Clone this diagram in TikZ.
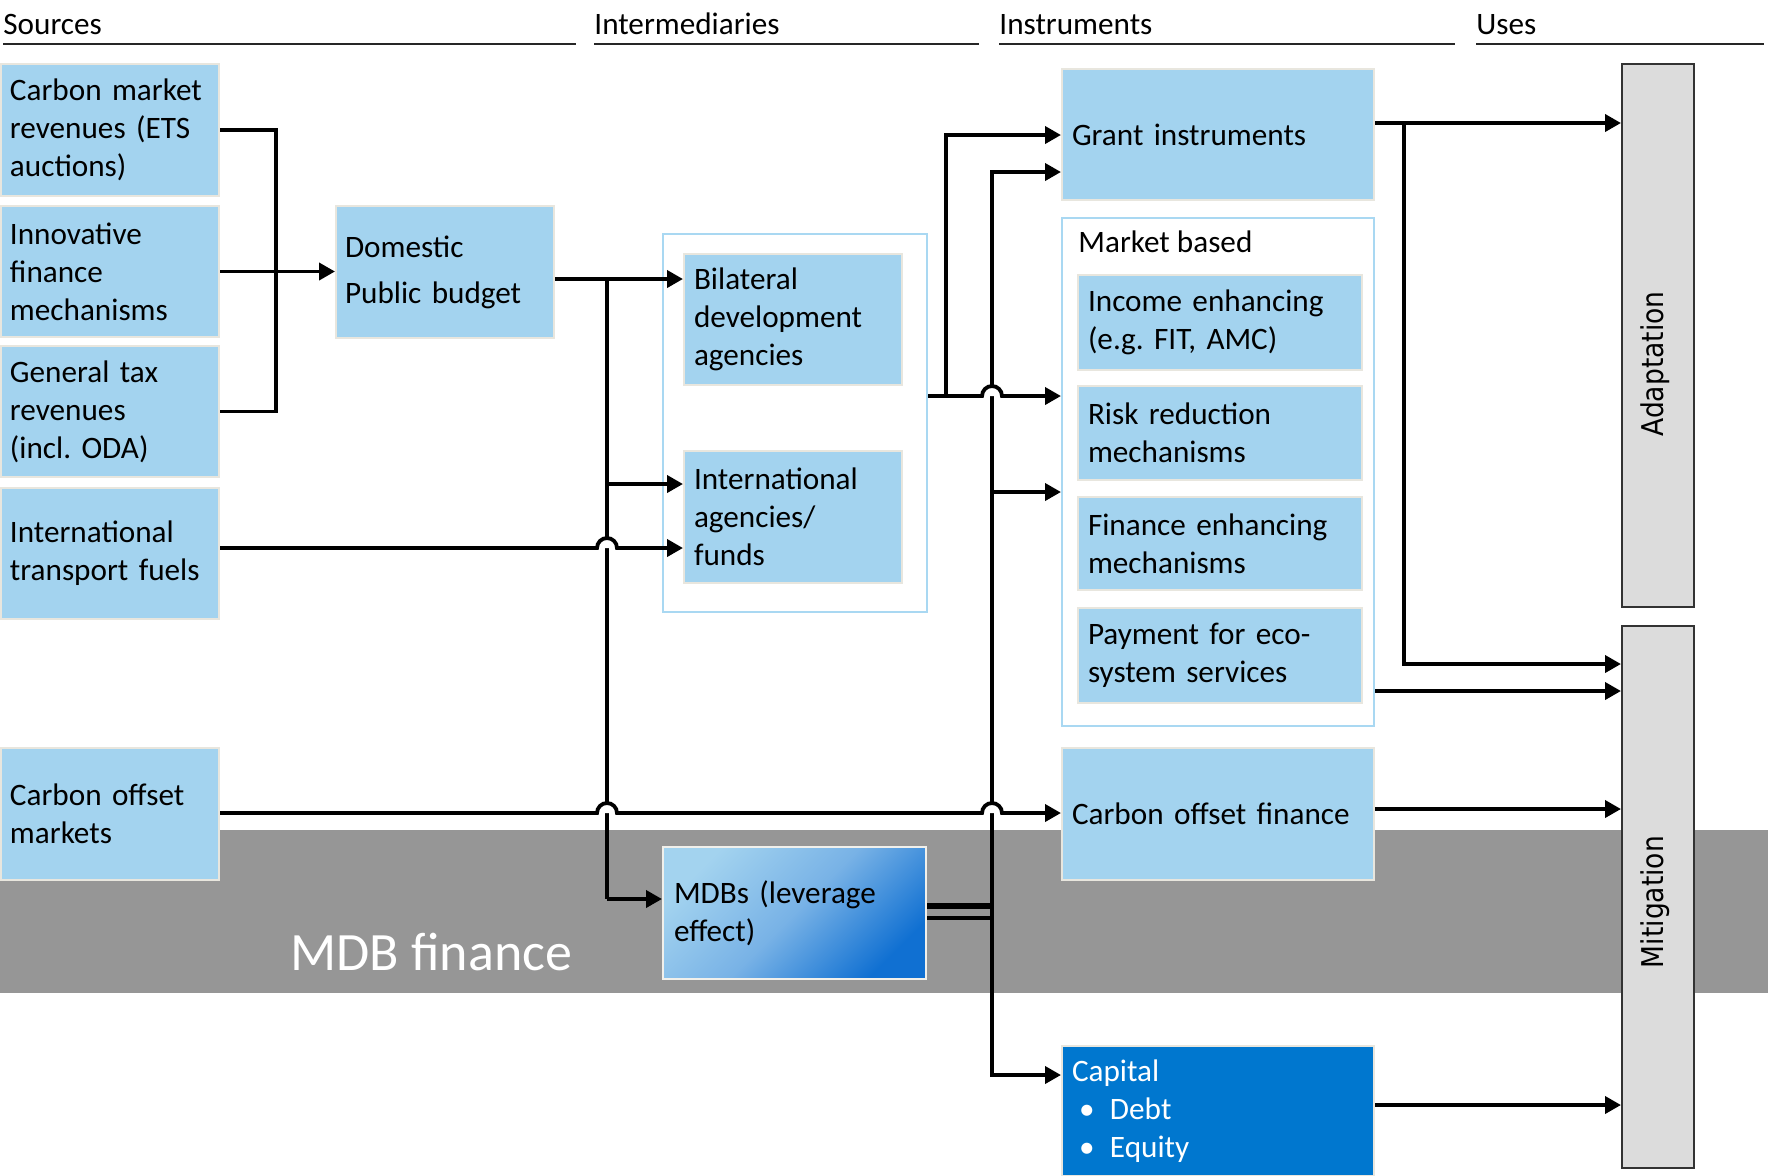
\documentclass[tikz,border=0pt]{standalone}
\usepackage{graphicx}
\usepackage{fontspec}
\setmainfont{Carlito}
\newfontfamily\usesfont{DejaVu Sans}
\usetikzlibrary{arrows.meta}
\frenchspacing

\definecolor{boxblue}{HTML}{A3D3EF}
\definecolor{boxedge}{HTML}{E8E6DE}
\definecolor{frameblue}{HTML}{A9D8F2}
\definecolor{capblue}{HTML}{0077CF}
\definecolor{bandgray}{HTML}{969696}
\definecolor{usefill}{HTML}{DCDCDC}
\definecolor{useedge}{HTML}{333333}
\definecolor{mdblight}{HTML}{A3D3EF}
\definecolor{mdbmid}{HTML}{78B2E6}
\definecolor{mdbdark}{HTML}{1070D2}

\begin{document}
\begin{tikzpicture}[x=0.5pt,y=-0.5pt,
  font=\fontsize{15.6pt}{19pt}\selectfont,
  box/.style={draw=boxedge, line width=1pt, fill=boxblue, anchor=north west,
    inner xsep=4.5pt, inner ysep=0pt, align=left, text=black},
  frame/.style={draw=frameblue, line width=1pt, fill=white, anchor=north west, inner sep=0pt},
  usebox/.style={draw=useedge, line width=1pt, fill=usefill, anchor=north west, inner sep=0pt},
  uselabel/.style={rotate=90, inner sep=0pt, font=\usesfont\fontsize{15pt}{18pt}\selectfont},
  head/.style={anchor=base west, inner sep=0pt},
  headline/.style={line width=1.3pt, black!85},
  conn/.style={line width=1.9pt, black},
  arr/.style={conn, -{Triangle[length=8pt,width=8.5pt]}},
]
\useasboundingbox (0,0) rectangle (1768,1175);

% MDB finance band
\fill[bandgray] (0,830) rectangle (1768,993);
\node[head, text=white, font=\fontsize{27pt}{30pt}\selectfont] (mdbf) at (290,970) {MDB finance};

% column headings
\node[head] (hsrc) at (3,34) {Sources};
\node[head] (hint) at (594,34) {Intermediaries};
\node[head] (hins) at (999,34) {Instruments};
\node[head] (huse) at (1476,34) {Uses};
\draw[headline] (3,44) -- (576,44);
\draw[headline] (594,44) -- (979,44);
\draw[headline] (999,44) -- (1455,44);
\draw[headline] (1476,44) -- (1764,44);

% sources
\node[box, text width=100pt, minimum height=66pt] (cmr) at (0,63) {Carbon market\\revenues (ETS\\auctions)};
\node[box, text width=100pt, minimum height=65.5pt] (ifm) at (0,205) {Innovative\\finance\\mechanisms};
\node[box, text width=100pt, minimum height=65.5pt] (gtr) at (0,345) {General tax\\revenues\\(incl. ODA)};
\node[box, text width=100pt, minimum height=65.5pt] (itf) at (0,487) {International\\transport fuels};
\node[box, text width=100pt, minimum height=66pt] (com) at (0,747) {Carbon offset\\markets};
\node[box, text width=100pt, minimum height=66pt, font=\fontsize{15.6pt}{23pt}\selectfont] (dpb) at (335,205) {Domestic\\Public budget};

% intermediaries
\node[frame, minimum width=132pt, minimum height=189pt] (inter) at (662,233) {};
\node[box, inner xsep=5pt, text width=99pt, minimum height=65.5pt] (bda) at (683,253) {Bilateral\\development\\agencies};
\node[box, inner xsep=5pt, text width=99pt, minimum height=66pt] (iaf) at (683,450) {International\\agencies/\\funds};
\node[box, draw=boxedge!60!white, top color=mdblight, bottom color=mdbdark, middle color=mdbmid,
  shading angle=45, inner xsep=5.5pt, text width=120.5pt, minimum height=66pt] (mdb) at (662,846) {MDBs (leverage\\effect)};

% instruments
\node[box, inner xsep=5pt, text width=146pt, minimum height=65.5pt] (gi) at (1061,68) {Grant instruments};
\node[frame, minimum width=156pt, minimum height=254pt] (mkt) at (1061,217) {};
\node[head] (mktlbl) at (1078,252) {Market based};
\node[box, inner xsep=5pt, text width=132pt, minimum height=47.5pt] (ie) at (1077,274) {Income enhancing\\(e.g. FIT, AMC)};
\node[box, inner xsep=5pt, text width=132pt, minimum height=47pt] (rr) at (1077,385) {Risk reduction\\mechanisms};
\node[box, inner xsep=5pt, text width=132pt, minimum height=46.5pt] (fe) at (1077,496) {Finance enhancing\\mechanisms};
\node[box, inner xsep=5pt, text width=132pt, minimum height=47.5pt] (pes) at (1077,607) {Payment for eco-\\system services};
\node[box, inner xsep=5pt, text width=146pt, minimum height=66pt] (cof) at (1061,747) {Carbon offset finance};
\node[box, fill=capblue, text=white, inner xsep=5pt, text width=146pt, minimum height=65pt] (cap) at (1061,1045)
  {Capital\\\makebox[19pt][l]{\hspace*{3.5pt}\textbullet}Debt\\\makebox[19pt][l]{\hspace*{3.5pt}\textbullet}Equity};

% uses
\node[usebox, minimum width=36pt, minimum height=271.5pt] (adapt) at (1621,63) {};
\node[usebox, minimum width=36pt, minimum height=271pt] (mitig) at (1621,625) {};
\node[uselabel] (adaptlbl) at (1655,364) {\scalebox{0.885}[1]{Adaptation}};
\node[uselabel] (mitiglbl) at (1655,902) {\scalebox{0.885}[1]{Mitigation}};

% junction points of the connector buses
\coordinate (bx) at (276,0);
\coordinate (bA) at (607,279);
\coordinate (bAmid) at (607,484);
\coordinate (bAbot) at (607,899);
\coordinate (hA) at (607,548);
\coordinate (bB) at (946,396);
\coordinate (bBtop) at (946,135);
\coordinate (hB) at (992,396);
\coordinate (vCtop) at (992,172);
\coordinate (vCmid) at (992,492);
\coordinate (vCbot) at (992,906);
\coordinate (mL) at (992,918);
\coordinate (mLbot) at (992,1075);
\coordinate (hC) at (607,813);
\coordinate (hD) at (992,813);
\coordinate (gR) at (1404,123);
\coordinate (gRbot) at (1404,664);
\coordinate (pR) at (1375,691);
\coordinate (cR) at (1375,809);
\coordinate (kR) at (1375,1105);

% sources into the domestic budget
\draw[conn] (cmr.east) -- (cmr.east -| bx) -- (gtr.east -| bx) -- (gtr.east);
\draw[arr] (ifm.east) -- (ifm.east -| dpb.west);

% domestic budget bus
\draw[arr] (dpb.east |- bA) -- (bA -| bda.west);
\draw[conn] (bA) -- (bAbot);
\draw[arr] (bAbot) -- (bAbot -| mdb.west);
\draw[arr] (bAmid) -- (bAmid -| iaf.west);

% MDB bus towards the instruments
\draw[arr] (vCbot) -- (vCtop) -- (vCtop -| gi.west);
\draw[arr] (vCmid) -- (vCmid -| mkt.west);
\draw[conn, line width=3pt] (mdb.east |- vCbot) -- (vCbot);
\draw[conn, line width=1.6pt] (mdb.east |- mL) -- (mL);
\draw[arr] (vCbot) -- (mLbot) -- (mLbot -| cap.west);

% intermediaries out
\draw[conn] (inter.east |- bB) -- (bB);
\draw[arr] (bB) -- (bBtop) -- (bBtop -| gi.west);

% line hops over the buses
\foreach \h in {hA,hB,hC,hD}
  \fill[white] ([xshift=-5pt]\h) arc[start angle=180, end angle=0, radius=5pt] -- cycle;
\draw[arr] (itf.east |- hA) -- ([xshift=-5pt]hA) arc[start angle=180, end angle=0, radius=5pt] -- (hA -| iaf.west);
\draw[arr] (bB) -- ([xshift=-5pt]hB) arc[start angle=180, end angle=0, radius=5pt] -- (hB -| mkt.west);
\draw[arr] (com.east |- hC) -- ([xshift=-5pt]hC) arc[start angle=180, end angle=0, radius=5pt]
  -- ([xshift=-5pt]hD) arc[start angle=180, end angle=0, radius=5pt] -- (hD -| cof.west);

% instruments into uses
\draw[arr] (gi.east |- gR) -- (gR -| adapt.west);
\draw[arr] (gR) -- (gRbot) -- (gRbot -| mitig.west);
\draw[arr] (mkt.east |- pR) -- (pR -| mitig.west);
\draw[arr] (cof.east |- cR) -- (cR -| mitig.west);
\draw[arr] (cap.east |- kR) -- (kR -| mitig.west);
\end{tikzpicture}
\end{document}
